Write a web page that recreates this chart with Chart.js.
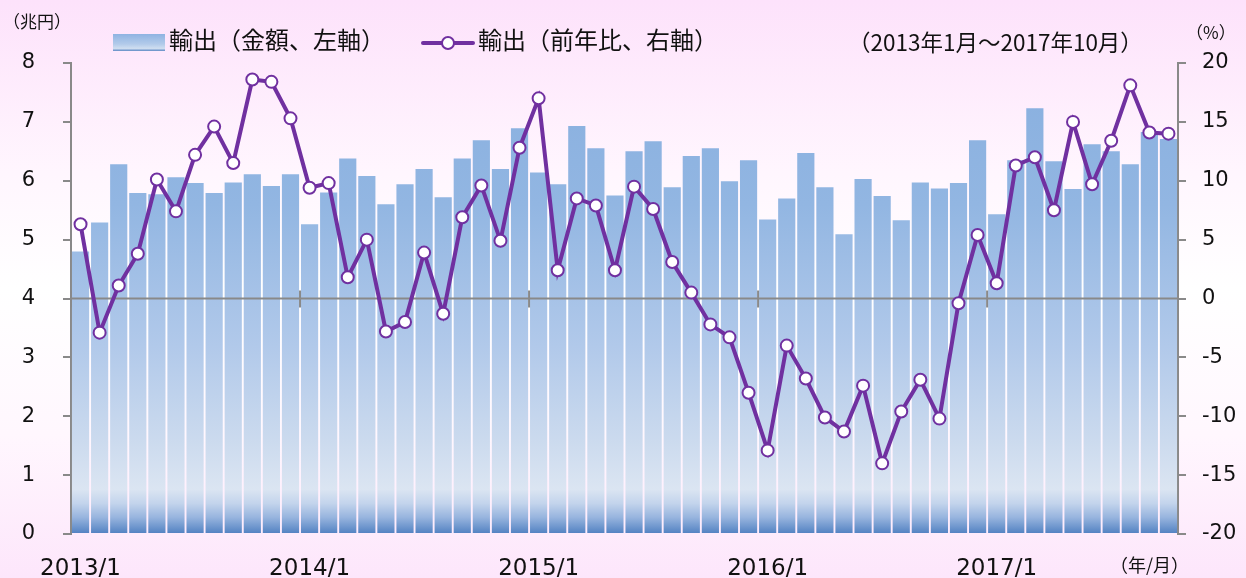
<!DOCTYPE html>
<html>
<head>
<meta charset="utf-8">
<script src="https://cdn.jsdelivr.net/npm/chart.js@4/dist/chart.umd.min.js"></script>
<style>
  html, body { margin:0; padding:0; }
  body {
    width:1246px; height:578px; overflow:hidden; position:relative;
    background: linear-gradient(to bottom, #fde2fb 0%, #fff6fe 30%, #ffffff 50%, #fff7fe 75%, #fde6fb 100%);
    font-family: "Noto Sans CJK JP", "DejaVu Sans", sans-serif;
  }
  #c { position:absolute; left:0; top:0; }
  .t { position:absolute; white-space:nowrap; color:#111; line-height:1; }
</style>
</head>
<body>
<canvas id="c" width="1246" height="578"></canvas>

<div class="t" style="left:3px; top:12px; font-size:17px;">（兆円）</div>
<div class="t" style="left:1186px; top:23px; font-size:17px;">（%）</div>
<div class="t" style="left:1110px; top:555px; font-size:18px;">（年/月）</div>

<div style="position:absolute; left:113px; top:34px; width:52px; height:17px; background:linear-gradient(to bottom,#8fb3e2 0%,#b3cbea 60%,#d0def0 85%,#5b87c4 100%);"></div>
<div class="t" style="left:169px; top:27px; font-size:24px;">輸出（金額、左軸）</div>

<div style="position:absolute; left:421px; top:41px; width:54px; height:4px; background:#7030a0; border-radius:2px;"></div>
<div style="position:absolute; left:441px; top:36px; width:10px; height:10px; border:2px solid #7030a0; border-radius:50%; background:#fff;"></div>
<div class="t" style="left:478px; top:27px; font-size:24px;">輸出（前年比、右軸）</div>

<div class="t" style="left:848px; top:30px; font-size:22.5px;">（2013年1月～2017年10月）</div>

<script>
const categories = [
  "2013/1","2013/2","2013/3","2013/4","2013/5","2013/6","2013/7","2013/8","2013/9","2013/10","2013/11","2013/12",
  "2014/1","2014/2","2014/3","2014/4","2014/5","2014/6","2014/7","2014/8","2014/9","2014/10","2014/11","2014/12",
  "2015/1","2015/2","2015/3","2015/4","2015/5","2015/6","2015/7","2015/8","2015/9","2015/10","2015/11","2015/12",
  "2016/1","2016/2","2016/3","2016/4","2016/5","2016/6","2016/7","2016/8","2016/9","2016/10","2016/11","2016/12",
  "2017/1","2017/2","2017/3","2017/4","2017/5","2017/6","2017/7","2017/8","2017/9","2017/10"
];

// 輸出（金額、兆円）
const exportValue = [
  4.80,5.29,6.28,5.79,5.77,6.06,5.96,5.79,5.97,6.11,5.91,6.11,
  5.26,5.80,6.38,6.08,5.60,5.94,6.20,5.72,6.38,6.69,6.20,6.89,
  6.14,5.94,6.93,6.55,5.75,6.50,6.67,5.89,6.42,6.55,5.99,6.35,
  5.34,5.70,6.47,5.89,5.09,6.03,5.74,5.33,5.97,5.87,5.96,6.69,
  5.43,6.35,7.23,6.33,5.86,6.62,6.50,6.28,6.83,6.71
];

// 輸出（前年比、%）
const exportYoY = [
  6.3,-2.9,1.1,3.8,10.1,7.4,12.2,14.6,11.5,18.6,18.4,15.3,
  9.4,9.8,1.8,5.0,-2.8,-2.0,3.9,-1.3,6.9,9.6,4.9,12.8,
  17.0,2.4,8.5,7.9,2.4,9.5,7.6,3.1,0.5,-2.2,-3.3,-8.0,
  -12.9,-4.0,-6.8,-10.1,-11.3,-7.4,-14.0,-9.6,-6.9,-10.2,-0.4,5.4,
  1.3,11.3,12.0,7.5,15.0,9.7,13.4,18.1,14.1,14.0
];

const leftTicks = { min: 0, max: 8, step: 1 };
const rightTicks = { min: -20, max: 20, step: 5 };

const AXIS_GRAY = '#898989';
const PURPLE = '#7030a0';

let gradCache = null;
function barGradient(ctx) {
  const chart = ctx.chart;
  const a = chart.chartArea;
  if (!a) return '#8db3e2';
  if (gradCache && gradCache.top === a.top && gradCache.bottom === a.bottom) return gradCache.g;
  const g = chart.ctx.createLinearGradient(0, a.top, 0, a.bottom);
  g.addColorStop(0.00, '#88afdf');
  g.addColorStop(0.30, '#92b6e2');
  g.addColorStop(0.60, '#b1c9ea');
  g.addColorStop(0.80, '#cbdaee');
  g.addColorStop(0.905, '#dbe5f2');
  g.addColorStop(0.935, '#c3d4ec');
  g.addColorStop(0.965, '#97b4de');
  g.addColorStop(1.00, '#5080c1');
  gradCache = { top: a.top, bottom: a.bottom, g };
  return g;
}

const zeroAxisPlugin = {
  id: 'zeroAxis',
  afterDatasetDraw(chart, args) {
    if (chart.data.datasets[args.index].type !== 'bar') return;
    const ctx = chart.ctx;
    const x = chart.scales.x;
    const y1 = chart.scales.y1;
    const a = chart.chartArea;
    const y0 = y1.getPixelForValue(0);
    ctx.save();
    ctx.strokeStyle = AXIS_GRAY;
    ctx.lineWidth = 2;
    ctx.beginPath();
    ctx.moveTo(a.left, y0);
    ctx.lineTo(a.right, y0);
    ctx.stroke();
    const n = categories.length;
    const step = (a.right - a.left) / n;
    ctx.beginPath();
    for (let i = 0; i < n; i++) {
      if (categories[i].endsWith('/1')) {
        const px = x.getPixelForValue(i) - step / 2;
        ctx.moveTo(px, y0 - 8);
        ctx.lineTo(px, y0 + 9);
      }
    }
    ctx.stroke();
    ctx.restore();
  }
};

new Chart(document.getElementById('c'), {
  data: {
    labels: categories,
    datasets: [
      {
        type: 'line',
        label: '輸出（前年比、右軸）',
        data: exportYoY,
        yAxisID: 'y1',
        borderColor: PURPLE,
        borderWidth: 4,
        tension: 0,
        pointRadius: 6,
        pointBorderWidth: 2,
        pointBackgroundColor: '#ffffff',
        pointBorderColor: PURPLE,
        order: 0
      },
      {
        type: 'bar',
        label: '輸出（金額、左軸）',
        data: exportValue,
        yAxisID: 'y',
        backgroundColor: barGradient,
        borderWidth: 0,
        barPercentage: 0.9,
        categoryPercentage: 1.0,
        order: 1
      }
    ]
  },
  options: {
    responsive: false,
    animation: false,
    devicePixelRatio: 1,
    layout: { padding: { top: 63, left: 0, right: 0, bottom: 0 } },
    plugins: { legend: { display: false }, tooltip: { enabled: false } },
    scales: {
      x: {
        type: 'category',
        offset: true,
        grid: { display: false, drawTicks: false, tickLength: 0 },
        border: { display: false },
        ticks: {
          autoSkip: false,
          maxRotation: 0,
          minRotation: 0,
          padding: 21,
          color: '#111',
          font: { family: 'DejaVu Sans', size: 23 },
          callback: function (value) {
            const l = this.getLabelForValue(value);
            return l.endsWith('/1') ? l : '';
          }
        },
        afterFit: s => { s.height = 44; }
      },
      y: {
        position: 'left',
        min: leftTicks.min, max: leftTicks.max,
        grid: { drawOnChartArea: false, drawTicks: true, tickLength: 8, color: AXIS_GRAY, lineWidth: 2 },
        border: { display: true, color: AXIS_GRAY, width: 2 },
        ticks: { stepSize: leftTicks.step, padding: 28, color: '#111', font: { family: 'DejaVu Sans', size: 21 } },
        afterFit: s => { s.width = 71; }
      },
      y1: {
        position: 'right',
        min: rightTicks.min, max: rightTicks.max,
        grid: { drawOnChartArea: false, drawTicks: true, tickLength: 8, color: AXIS_GRAY, lineWidth: 2 },
        border: { display: true, color: AXIS_GRAY, width: 2 },
        ticks: { stepSize: rightTicks.step, padding: 16, color: '#111', font: { family: 'DejaVu Sans', size: 21 } },
        afterFit: s => { s.width = 68; }
      }
    }
  },
  plugins: [zeroAxisPlugin]
});
</script>
</body>
</html>
